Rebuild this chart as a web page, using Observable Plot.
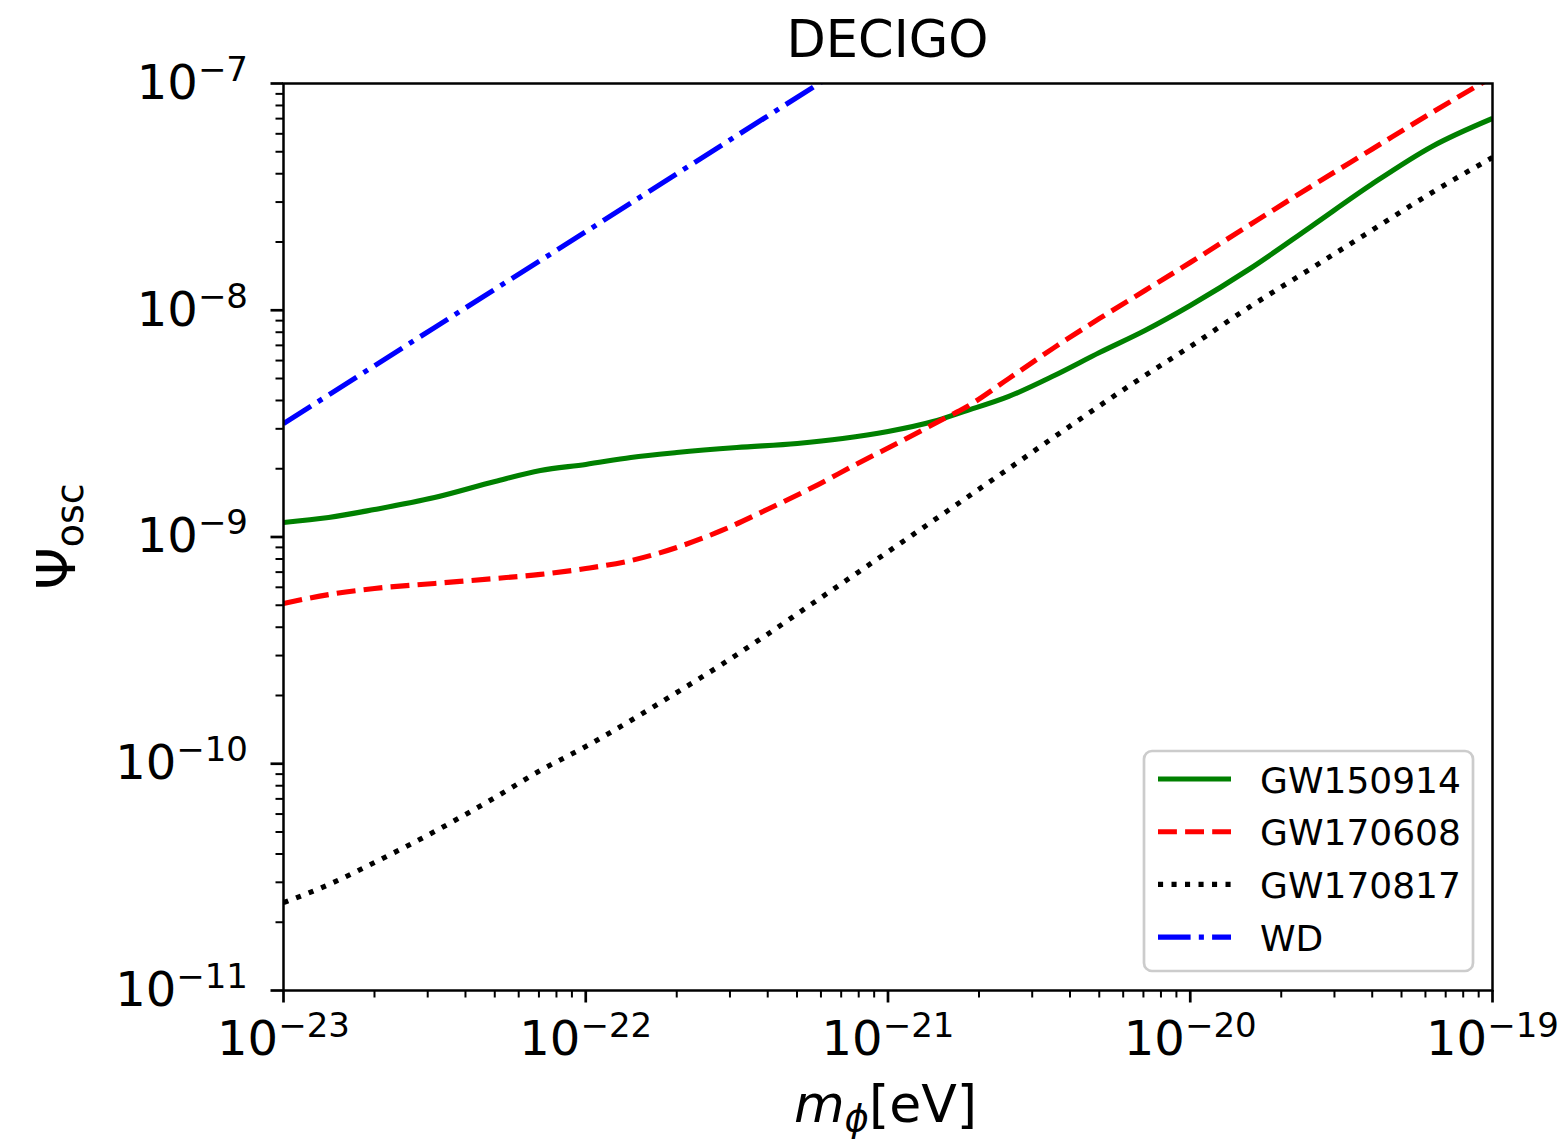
<!DOCTYPE html>
<html><head><meta charset="utf-8">
<script src="https://cdn.jsdelivr.net/npm/d3@7"></script>
<script src="https://cdn.jsdelivr.net/npm/@observablehq/plot@0.6"></script>
<style>body{margin:0;background:#fff} svg{display:block}</style>
</head><body><div id="chart"></div>
<script>
// ---- data ----
const seriesNames = ["GW150914", "GW170608", "GW170817", "WD"];

const gw150914_m = [1e-23,1.41e-23,2.0e-23,3.16e-23,5.01e-23,7.08e-23,1e-22,1.41e-22,2.0e-22,3.16e-22,5.01e-22,7.08e-22,1e-21,1.41e-21,1.78e-21,2.51e-21,3.55e-21,5.01e-21,7.08e-21,1e-20,1.58e-20,2.51e-20,3.98e-20,6.31e-20,1e-19];
const gw150914_psi = [1.159e-9,1.219e-9,1.322e-9,1.493e-9,1.758e-9,1.965e-9,2.089e-9,2.243e-9,2.358e-9,2.482e-9,2.585e-9,2.718e-9,2.920e-9,3.231e-9,3.574e-9,4.169e-9,5.155e-9,6.511e-9,8.143e-9,1.050e-8,1.528e-8,2.340e-8,3.589e-8,5.276e-8,7.012e-8];

const gw170608_m = [1e-23,1.41e-23,2.0e-23,3.16e-23,5.01e-23,7.08e-23,1e-22,1.41e-22,2.0e-22,2.82e-22,3.98e-22,5.62e-22,7.94e-22,1.12e-21,1.58e-21,1.78e-21,2.51e-21,3.55e-21,5.01e-21,7.08e-21,1e-20,1.58e-20,2.51e-20,3.98e-20,6.31e-20,1e-19];
const gw170608_psi = [5.09e-10,5.57e-10,5.93e-10,6.24e-10,6.56e-10,6.84e-10,7.26e-10,7.87e-10,8.99e-10,1.069e-9,1.322e-9,1.652e-9,2.109e-9,2.667e-9,3.398e-9,3.687e-9,5.00e-9,6.85e-9,9.20e-9,1.222e-8,1.624e-8,2.388e-8,3.515e-8,5.117e-8,7.45e-8,1.07e-7];

const gw170817_m = [1e-23,1.41e-23,2.0e-23,3.16e-23,5.01e-23,7.08e-23,1e-22,1.41e-22,2.0e-22,2.82e-22,3.98e-22,5.62e-22,7.94e-22,1.12e-21,1.58e-21,2.51e-21,3.98e-21,6.31e-21,1e-20,1.58e-20,2.51e-20,3.98e-20,6.31e-20,1e-19];
const gw170817_psi = [2.44e-11,2.93e-11,3.67e-11,5.02e-11,7.10e-11,9.34e-11,1.191e-10,1.552e-10,2.061e-10,2.741e-10,3.715e-10,5.09e-10,6.97e-10,9.55e-10,1.309e-9,2.004e-9,3.07e-9,4.66e-9,6.92e-9,1.039e-8,1.528e-8,2.248e-8,3.307e-8,4.72e-8];

const wd_m = [1e-23,3.16e-23,1e-22,3.16e-22,1e-21];
const wd_psi = [3.16e-9,8.39e-9,2.22e-8,5.89e-8,1.56e-7];

const xTicks = [1e-23,1e-22,1e-21,1e-20,1e-19];
const xTickExp = ["−23","−22","−21","−20","−19"];
const yTicks = [1e-11,1e-10,1e-9,1e-8,1e-7];
const yTickExp = ["−11","−10","−9","−8","−7"];

const titleText = "DECIGO";

// ---- build tables ----
const toRows = (name, xs, ys) => xs.map((x, i) => ({series: name, m: x, psi: ys[i]}));
const data = [
  toRows(seriesNames[0], gw150914_m, gw150914_psi),
  toRows(seriesNames[1], gw170608_m, gw170608_psi),
  toRows(seriesNames[2], gw170817_m, gw170817_psi),
  toRows(seriesNames[3], wd_m, wd_psi)
];
const styles = [
  {stroke: "#008000", dash: null},
  {stroke: "#ff0000", dash: "18.9,8.2"},
  {stroke: "#000000", dash: "5.1,8.4"},
  {stroke: "#0000ff", dash: "32.6,8.2,5.1,8.2"}
];
const minorOf = ticks => ticks.slice(0, -1).flatMap(d => [2,3,4,5,6,7,8,9].map(k => k * d));
const xMinor = minorOf(xTicks);
const yMinor = minorOf(yTicks);

const W = 1562, H = 1143;
const mL = 283, mR = 70, mT = 83, mB = 153;

const chart = Plot.plot({
  width: W, height: H,
  marginLeft: mL, marginRight: mR, marginTop: mT, marginBottom: mB,
  style: {fontFamily: "DejaVu Sans", background: "white", color: "black"},
  x: {type: "log", domain: [1e-23, 1e-19], label: null},
  y: {type: "log", domain: [1e-11, 1e-7], label: null},
  marks: [
    ...data.map((rows, i) => Plot.line(rows, {
      x: "m", y: "psi", stroke: styles[i].stroke, strokeWidth: 5.1,
      strokeDasharray: styles[i].dash || undefined,
      strokeLinecap: "butt", strokeLinejoin: "round", clip: true, curve: "monotone-x"
    })),
    Plot.frame({stroke: "black", strokeWidth: 2.5}),
    Plot.axisX({ticks: xTicks, tickSize: 12.5, tickPadding: 18, strokeWidth: 2.7, fontSize: 48,
      tickFormat: d => "10^" + xTickExp[xTicks.indexOf(d)], label: null}),
    Plot.axisX({ticks: xMinor, tickSize: 7.5, strokeWidth: 2, tickFormat: () => "", label: null}),
    Plot.axisY({ticks: yTicks, tickSize: 12.5, tickPadding: 23, strokeWidth: 2.7, fontSize: 48,
      tickFormat: d => "10^" + yTickExp[yTicks.indexOf(d)], label: null}),
    Plot.axisY({ticks: yMinor, tickSize: 7.5, strokeWidth: 2, tickFormat: () => "", label: null})
  ]
});

document.getElementById("chart").appendChild(chart);
const svg = d3.select(chart);

// superscripts on tick labels
svg.selectAll("text").each(function() {
  const t = d3.select(this);
  const s = t.text();
  if (s.includes("^")) {
    const [base, exp] = s.split("^");
    t.text("");
    t.append("tspan").text(base);
    t.append("tspan").attr("dy", -18).attr("font-size", 34).text(exp);
  }
});

// title
svg.append("text").attr("x", (mL + W - mR) / 2).attr("y", 57)
  .attr("text-anchor", "middle").attr("font-size", 51).attr("fill", "black").text(titleText);

// x label: m_phi[eV]
const xl = svg.append("text").attr("x", (mL + W - mR) / 2 - 2).attr("y", 1122)
  .attr("text-anchor", "middle").attr("font-size", 52).attr("fill", "black");
xl.append("tspan").attr("font-style", "italic").text("m");
xl.append("tspan").attr("font-style", "italic").attr("font-size", 37).attr("dy", 9).text("ϕ");
xl.append("tspan").attr("dy", -9).text("[eV]");

// y label: Psi_osc
const yl = svg.append("text").attr("transform", `translate(75,${(mT + H - mB) / 2}) rotate(-90)`)
  .attr("text-anchor", "middle").attr("font-size", 54).attr("fill", "black");
yl.append("tspan").text("Ψ");
yl.append("tspan").attr("font-size", 38).attr("dy", 8).text("osc");

// legend
const lg = svg.append("g");
lg.append("rect").attr("x", 1144).attr("y", 751).attr("width", 329).attr("height", 220)
  .attr("rx", 8).attr("fill", "white").attr("fill-opacity", 0.8)
  .attr("stroke", "#cccccc").attr("stroke-width", 2.7);
seriesNames.forEach((name, i) => {
  const cy = 779 + i * 52.7;
  lg.append("line").attr("x1", 1158).attr("x2", 1231).attr("y1", cy).attr("y2", cy)
    .attr("stroke", styles[i].stroke).attr("stroke-width", 5.1)
    .attr("stroke-dasharray", styles[i].dash).attr("stroke-linecap", "butt");
  lg.append("text").attr("x", 1260).attr("y", cy + 13.5).attr("font-size", 36)
    .attr("text-anchor", "start").attr("fill", "black").text(name);
});
</script></body></html>
